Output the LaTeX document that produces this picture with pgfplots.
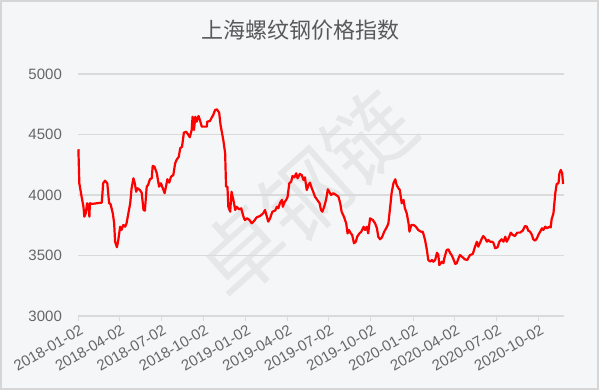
\documentclass[border=0pt]{standalone}
\usepackage{pgfplots}
\pgfplotsset{compat=1.18}
\usepackage{fontspec}
\setmainfont{Liberation Sans}
\newfontfamily\cjk{Noto Sans CJK SC}
\definecolor{bgc}{HTML}{F5F6F8}
\definecolor{framec}{HTML}{D6D6D6}
\definecolor{gridc}{HTML}{DADADA}
\definecolor{txtc}{HTML}{666666}
\definecolor{titc}{HTML}{595959}
\definecolor{wmc}{HTML}{E6E7E9}
\begin{document}
\begin{tikzpicture}[x=1pt,y=1pt]
\fill[bgc] (0,0) rectangle (599,390);
\draw[framec, line width=2pt] (1,1) rectangle (598,389);
\node[wmc, rotate=42, font=\cjk\fontsize{86}{90}\selectfont] at (305,195) {卓钢链};
\node[titc, font=\cjk\fontsize{22}{24}\selectfont] at (300,360) {上海螺纹钢价格指数};
\begin{axis}[
  at={(78.4pt,74pt)}, anchor=south west,
  scale only axis, width=485.6pt, height=242pt,
  xmin=0, xmax=1059, ymin=3000, ymax=5000,
  axis x line*=bottom, axis y line*=left,
  x axis line style={gridc, line width=1pt, -},
  y axis line style={draw=none},
  xtick={0,90,181,273,365,455,546,638,730,821,912,1004},
  xticklabels={2018-01-02,2018-04-02,2018-07-02,2018-10-02,2019-01-02,2019-04-02,2019-07-02,2019-10-02,2020-01-02,2020-04-02,2020-07-02,2020-10-02},
  xticklabel style={rotate=30, anchor=north east, font=\fontsize{15}{16}\selectfont, text=txtc, inner sep=1pt, yshift=-2pt},
  x tick style={gridc, line width=1pt},
  major tick length=5pt,
  tick align=outside,
  ytick={3000,3500,4000,4500,5000},
  ymajorgrids, grid style={gridc, line width=1.3pt},
  y tick style={draw=none},
  yticklabel style={font=\fontsize{15}{16}\selectfont, text=txtc, xshift=-8pt},
  /pgf/number format/assume math mode=true,
  /pgf/number format/1000 sep={},
  clip=false,
]
\addplot[red, line width=2.2pt, line join=round] table {
x y
0 4378
2 4097
7 3986
11 3903
13 3821
16 3849
19 3932
22 3903
24 3821
25 3932
29 3926
51 3937
54 4097
58 4118
63 4097
67 3932
70 3926
75 3849
78 3766
80 3614
84 3568
87 3628
91 3738
94 3711
98 3752
102 3738
105 3766
109 3849
113 3932
116 4056
120 4138
123 4097
126 4027
129 4056
134 4041
138 4019
142 3876
145 3871
149 4069
152 4083
156 4130
160 4138
162 4240
166 4234
171 4179
176 4069
180 4097
184 4056
188 4015
191 4069
194 4130
198 4102
202 4151
207 4165
211 4262
214 4289
219 4317
222 4386
226 4399
230 4515
235 4523
240 4496
243 4477
247 4537
249 4647
252 4537
255 4647
258 4606
262 4653
265 4620
269 4565
274 4565
280 4565
281 4606
287 4612
291 4642
294 4661
298 4702
302 4708
307 4680
310 4579
316 4455
320 4345
322 4069
325 4069
327 3903
331 3862
334 4027
338 3959
342 3876
345 3903
350 3882
355 3890
360 3821
363 3793
368 3807
373 3793
378 3766
382 3780
389 3816
396 3826
403 3849
407 3876
411 3821
414 3780
418 3807
423 3862
429 3871
433 3903
436 3890
440 3937
444 3959
446 3903
449 3937
453 3959
456 3981
460 4097
464 4110
467 4157
471 4146
475 4179
478 4138
483 4174
487 4165
491 4124
494 4146
498 4041
502 4083
505 4102
509 4056
512 4027
516 3986
521 3959
526 3932
529 3876
532 3862
536 3903
540 3959
544 4047
547 4027
551 4000
556 4015
562 4000
567 3986
571 3932
574 3862
579 3821
584 3766
587 3683
590 3711
594 3683
597 3670
601 3601
605 3614
608 3655
613 3683
617 3697
622 3738
625 3711
629 3738
632 3683
636 3807
642 3793
647 3766
651 3725
654 3655
658 3634
662 3650
667 3697
673 3738
676 3766
680 3903
683 4015
687 4097
691 4130
694 4083
698 4056
701 4041
705 3932
709 3959
712 3890
716 3849
720 3766
722 3697
726 3752
731 3752
736 3738
741 3711
747 3697
751 3697
756 3628
760 3545
763 3463
767 3449
771 3463
774 3449
778 3463
782 3523
785 3504
787 3421
793 3449
796 3436
798 3477
803 3545
807 3551
811 3518
814 3504
818 3468
822 3430
825 3436
829 3477
832 3504
838 3485
843 3468
848 3463
854 3504
860 3512
865 3573
869 3614
872 3573
876 3606
880 3642
883 3661
887 3642
891 3614
894 3628
898 3614
902 3614
905 3606
909 3560
914 3568
918 3614
923 3634
927 3614
931 3655
934 3614
938 3642
943 3689
947 3670
952 3661
957 3689
963 3689
969 3705
974 3744
978 3738
981 3705
985 3697
989 3670
992 3634
996 3623
1000 3642
1003 3670
1007 3697
1011 3725
1014 3711
1018 3738
1022 3725
1027 3738
1030 3733
1032 3799
1036 3849
1040 4015
1043 4091
1047 4097
1049 4179
1052 4207
1055 4179
1057 4091
};
\end{axis}
\end{tikzpicture}
\end{document}
